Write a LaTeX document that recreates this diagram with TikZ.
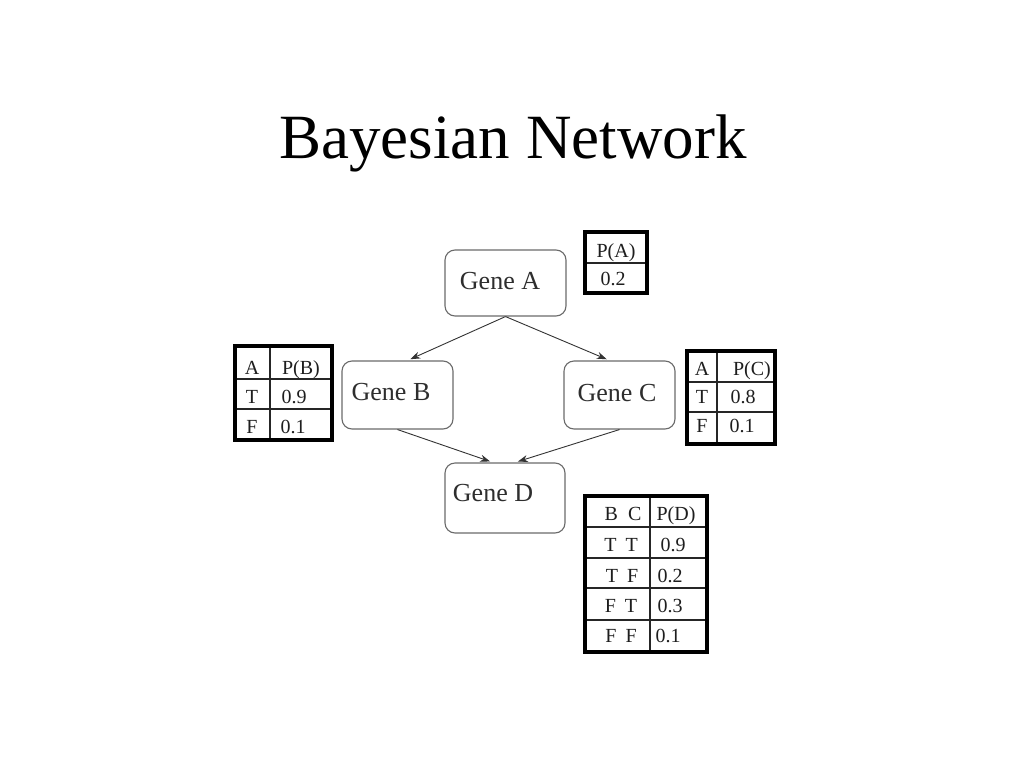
\documentclass[tikz,border=0pt]{standalone}
\usepackage{fontspec}
\setmainfont{Liberation Serif}
\usetikzlibrary{arrows.meta}
\definecolor{boxgray}{HTML}{6A6A6A}
\definecolor{genetextc}{HTML}{2E2E2E}
\definecolor{edgec}{HTML}{333333}
\definecolor{tabtextc}{HTML}{1E1E1E}
\begin{document}
\begin{tikzpicture}[x=1pt,y=-1pt,
  genebox/.style={draw=boxgray, line width=1.1pt, rounded corners=10pt, inner sep=0pt},
  genetext/.style={font=\fontsize{26}{30}\selectfont, text=genetextc, inner sep=0pt},
  edge/.style={-{Stealth[length=10pt,width=7pt]}, line width=0.9pt, draw=edgec, shorten >=3pt},
  tabtext/.style={font=\fontsize{20}{24}\selectfont, text=tabtextc, inner sep=0pt, anchor=base},
  tabouter/.style={draw=black, line width=3.4pt},
  tabinner/.style={draw=black!85, line width=1.2pt},
  titletext/.style={font=\fontsize{63}{70}\selectfont, text=black, inner sep=0pt, anchor=base}
]
\useasboundingbox (0,0) rectangle (1024,768);
\fill[white] (0,0) rectangle (1024,768);

% title
\node[titletext] (title) at (513,158) {Bayesian Network};

% gene boxes
\node[genebox, minimum width=121pt, minimum height=66pt] (gA) at (505.5,283) {};
\node[genebox, minimum width=111pt, minimum height=68pt] (gB) at (397.5,395) {};
\node[genebox, minimum width=111pt, minimum height=68pt] (gC) at (619.5,395) {};
\node[genebox, minimum width=120pt, minimum height=70pt] (gD) at (505,498) {};
\node[genetext] (gAt) at (500,281) {Gene A};
\node[genetext] (gBt) at (391,392) {Gene B};
\node[genetext] (gCt) at (617,393) {Gene C};
\node[genetext] (gDt) at (493,493) {Gene D};

% edges
\draw[edge] (gA.south) -- ([xshift=10pt]gB.north);
\draw[edge] (gA.south) -- ([xshift=-10pt]gC.north);
\draw[edge] (gB.south) -- ([xshift=-12pt]gD.north);
\draw[edge] (gC.south) -- ([xshift=10pt]gD.north);

% table P(A)
\draw[tabinner] (585,263) -- (647,263);
\draw[tabouter] (585,232) rectangle (647,293);
\node[tabtext] (pa1) at (616,257) {P(A)};
\node[tabtext] (pa2) at (613,285) {0.2};

% table P(B)
\draw[tabinner] (235,379) -- (332,379);
\draw[tabinner] (235,409) -- (332,409);
\draw[tabinner] (270,346) -- (270,440);
\draw[tabouter] (235,346) rectangle (332,440);
\node[tabtext] (pb11) at (252,374) {A};
\node[tabtext] (pb12) at (301,374) {P(B)};
\node[tabtext] (pb21) at (252,403) {T};
\node[tabtext] (pb22) at (294,403) {0.9};
\node[tabtext] (pb31) at (252,433) {F};
\node[tabtext] (pb32) at (293,433) {0.1};

% table P(C)
\draw[tabinner] (687,382) -- (775,382);
\draw[tabinner] (687,412) -- (775,412);
\draw[tabinner] (717,351) -- (717,444);
\draw[tabouter] (687,351) rectangle (775,444);
\node[tabtext] (pc11) at (702,375) {A};
\node[tabtext] (pc12) at (752,375) {P(C)};
\node[tabtext] (pc21) at (702,403) {T};
\node[tabtext] (pc22) at (743,403) {0.8};
\node[tabtext] (pc31) at (702,432) {F};
\node[tabtext] (pc32) at (742,432) {0.1};

% table P(D)
\foreach \yy in {527,558,588,620} {\draw[tabinner] (585,\yy) -- (707,\yy);}
\draw[tabinner] (650,496) -- (650,652);
\draw[tabouter] (585,496) rectangle (707,652);
\node[tabtext] (pd11) at (623,520) {B\hspace{10pt}C};
\node[tabtext] (pd12) at (676,520) {P(D)};
\node[tabtext] (pd21) at (621,551) {T\hspace{9pt}T};
\node[tabtext] (pd22) at (673,551) {0.9};
\node[tabtext] (pd31) at (622,582) {T\hspace{9pt}F};
\node[tabtext] (pd32) at (670,582) {0.2};
\node[tabtext] (pd41) at (621,612) {F\hspace{9pt}T};
\node[tabtext] (pd42) at (670,612) {0.3};
\node[tabtext] (pd51) at (621,642) {F\hspace{9pt}F};
\node[tabtext] (pd52) at (668,642) {0.1};
\end{tikzpicture}
\end{document}
